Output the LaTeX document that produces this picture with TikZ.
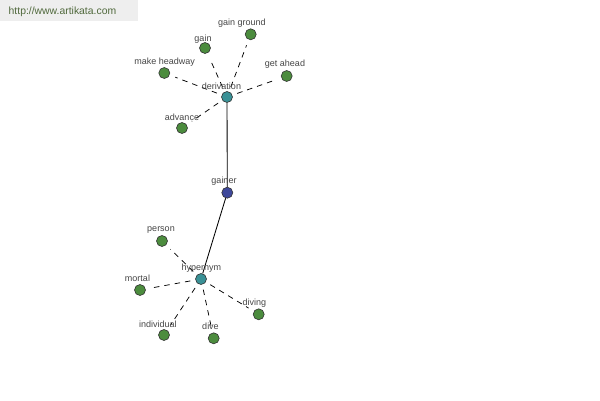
\documentclass[tikz,border=0pt]{standalone}
\usepackage{fontspec}
\setmainfont{Liberation Sans}
\begin{document}
\begin{tikzpicture}[x=1pt,y=-1pt,
  leaf/.style={circle,draw=black!80,line width=0.6pt,fill=leafgreen,inner sep=0pt,minimum size=11pt},
  hub/.style={leaf,fill=hubteal},
  root/.style={leaf,fill=rootblue},
  lbl/.style={font=\fontsize{9}{10}\selectfont,text=labelgray,inner sep=0pt},
  dashlink/.style={line width=0.75pt,dash pattern=on 5.5pt off 5pt,shorten <=5pt,shorten >=6pt},
  solidlink/.style={line width=0.85pt}]
\definecolor{leafgreen}{RGB}{76,140,62}
\definecolor{hubteal}{RGB}{58,145,150}
\definecolor{rootblue}{RGB}{62,72,155}
\definecolor{labelgray}{RGB}{70,70,70}
\definecolor{headgray}{RGB}{238,238,238}
\definecolor{headtext}{RGB}{80,105,60}
\useasboundingbox (0,0) rectangle (600,400);
\fill[white] (0,0) rectangle (600,400);
\fill[headgray] (0,0) rectangle (138,21);
\node[anchor=west,font=\fontsize{10.4}{12}\selectfont,text=headtext,inner sep=0pt] (site) at (8.5,12) {http://www.artikata.com};

% nodes
\node[hub]  (der) at (227,97) {};
\node[root] (gnr) at (227.3,192.7) {};
\node[hub]  (hyp) at (201,279) {};

\node[leaf] (gain) at (205,48) {};
\node[leaf] (gg) at (250.7,34.3) {};
\node[leaf] (mh) at (164.3,73) {};
\node[leaf] (ga) at (286.7,76) {};
\node[leaf] (adv) at (182,128) {};

\node[leaf] (per) at (162,241) {};
\node[leaf] (mor) at (140,290) {};
\node[leaf] (ind) at (164,335) {};
\node[leaf] (dive) at (213.7,338.3) {};
\node[leaf] (divg) at (258.7,314.3) {};

% links
\draw[solidlink] (der) -- (gnr);
\draw[solidlink] (gnr) -- (hyp);
\foreach \n in {gain,gg,mh,ga,adv} \draw[dashlink] (der) -- (\n);
\foreach \n in {per,mor,ind,dive,divg} \draw[dashlink] (hyp) -- (\n);

% labels
\node[lbl] (lder) at (221.5,86) {derivation};
\node[lbl] (lgnr) at (224,181) {gainer};
\node[lbl] (lhyp) at (201.3,268.3) {hypernym};
\node[lbl] (lgain) at (203,39.3) {gain};
\node[lbl] (lgg) at (242,23.3) {gain ground};
\node[lbl] (lmh) at (164.7,62.3) {make headway};
\node[lbl] (lga) at (285,64.3) {get ahead};
\node[lbl] (ladv) at (182,117.3) {advance};
\node[lbl] (lper) at (161,230) {person};
\node[lbl] (lmor) at (137.5,278.3) {mortal};
\node[lbl] (lind) at (157.8,324) {individual};
\node[lbl] (ldive) at (210.5,326.7) {dive};
\node[lbl] (ldivg) at (254.3,303.3) {diving};
\end{tikzpicture}
\end{document}
